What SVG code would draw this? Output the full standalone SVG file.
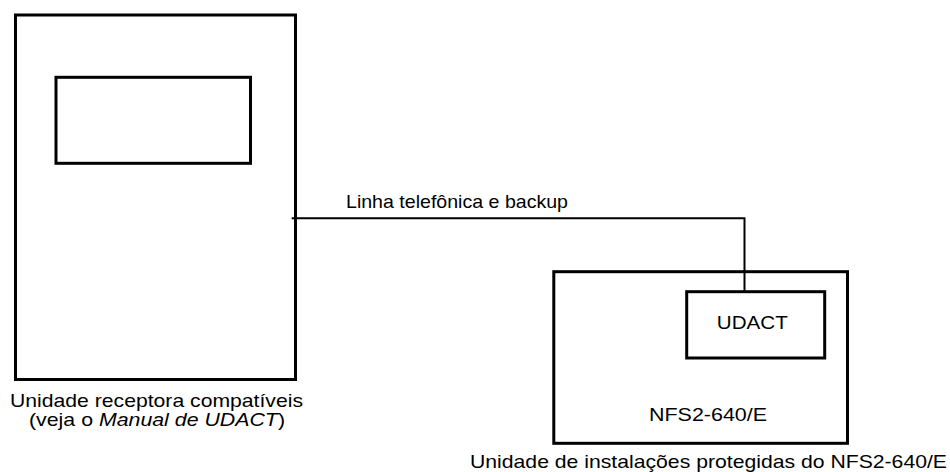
<svg xmlns="http://www.w3.org/2000/svg" width="950" height="472" viewBox="0 0 950 472">
<style>
.box{fill:none;stroke:#000;stroke-width:3}
.wire{fill:none;stroke:#000;stroke-width:2}
text{font-family:"Liberation Sans",Arial,sans-serif;font-size:19px;fill:#000}
</style>
<rect width="950" height="472" fill="#fff"/>
<g id="receiver">
<rect class="box" x="15.5" y="15" width="280" height="364.5"/>
<rect class="box" x="56" y="77.3" width="194.5" height="86"/>
<text x="156.5" y="406.5" text-anchor="middle" textLength="293" lengthAdjust="spacingAndGlyphs">Unidade receptora compatíveis</text>
<text x="157" y="426" text-anchor="middle" textLength="256" lengthAdjust="spacingAndGlyphs">(veja o <tspan font-style="italic">Manual de UDACT</tspan>)</text>
</g>
<g id="panel">
<rect class="box" x="553.8" y="271.7" width="293.7" height="171.6"/>
<text x="708" y="421" text-anchor="middle" textLength="118" lengthAdjust="spacingAndGlyphs">NFS2-640/E</text>
<text x="708.5" y="468" text-anchor="middle" textLength="477" lengthAdjust="spacingAndGlyphs">Unidade de instalações protegidas do NFS2-640/E</text>
</g>
<g id="udact">
<rect class="box" x="686.7" y="291.7" width="138" height="66.3"/>
<text x="752.3" y="329.3" text-anchor="middle" textLength="71" lengthAdjust="spacingAndGlyphs">UDACT</text>
</g>
<g id="connectors">
<polyline class="wire" points="291.7,218.3 744.5,218.3 744.5,292"/>
<text x="457" y="208.3" text-anchor="middle" textLength="222" lengthAdjust="spacingAndGlyphs">Linha telefônica e backup</text>
</g>
</svg>
